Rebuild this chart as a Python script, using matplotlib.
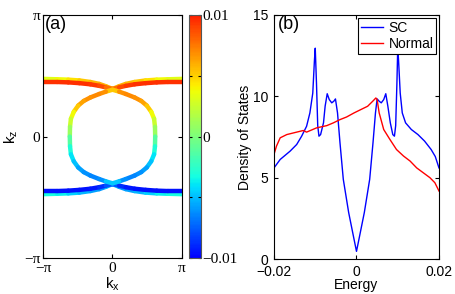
import numpy as np
import matplotlib
matplotlib.use('Agg')
import matplotlib.pyplot as plt
from matplotlib.collections import LineCollection
from matplotlib.colors import ListedColormap

plt.rcParams['font.family'] = ['Liberation Sans', 'DejaVu Sans']
plt.rcParams['font.size'] = 10
plt.rcParams['axes.linewidth'] = 0.8

# ---- panel (a): Fermi surface lines, colour = value on colorbar
band_kx = [-3.14, -2.5, -2.0, -1.5, -1.0, -0.6, -0.3, 0.0, 0.3, 0.6, 1.0, 1.5, 2.0, 2.5, 3.14]
top_outer_kz = [1.49, 1.48, 1.47, 1.45, 1.41, 1.36, 1.30, 1.23, 1.30, 1.36, 1.41, 1.45, 1.47, 1.48, 1.49]
top_outer_c = [0.003, 0.0035, 0.004, 0.005, 0.0055, 0.006, 0.006, 0.005, 0.006, 0.006, 0.0055, 0.005, 0.004, 0.0035, 0.003]
top_inner_kz = [1.41, 1.41, 1.40, 1.38, 1.35, 1.31, 1.27, 1.23, 1.27, 1.31, 1.35, 1.38, 1.40, 1.41, 1.41]
top_inner_c = [0.0095, 0.0095, 0.0095, 0.0095, 0.0095, 0.009, 0.0085, 0.007, 0.0085, 0.009, 0.0095, 0.0095, 0.0095, 0.0095, 0.0095]
bot_outer_kz = [-1.49, -1.48, -1.47, -1.45, -1.41, -1.36, -1.30, -1.23, -1.30, -1.36, -1.41, -1.45, -1.47, -1.48, -1.49]
bot_outer_c = [-0.003, -0.0035, -0.004, -0.005, -0.0055, -0.006, -0.006, -0.004, -0.006, -0.006, -0.0055, -0.005, -0.004, -0.0035, -0.003]
bot_inner_kz = [-1.41, -1.41, -1.40, -1.38, -1.35, -1.31, -1.27, -1.23, -1.27, -1.31, -1.35, -1.38, -1.40, -1.41, -1.41]
bot_inner_c = [-0.0095, -0.0095, -0.0095, -0.0095, -0.0095, -0.009, -0.0085, -0.007, -0.0085, -0.009, -0.0095, -0.0095, -0.0095, -0.0095, -0.0095]

ring_right_kx = [0.0, 0.3, 0.6, 1.0, 1.3, 1.55, 1.75, 1.88, 1.92, 1.93, 1.92, 1.88, 1.75, 1.55, 1.3, 1.0, 0.6, 0.3, 0.0]
ring_left_kx = [0.0, -0.3, -0.6, -1.0, -1.3, -1.55, -1.75, -1.88, -1.92, -1.93, -1.92, -1.88, -1.75, -1.55, -1.3, -1.0, -0.6, -0.3, 0.0]
ring_kz = [1.21, 1.16, 1.10, 1.01, 0.92, 0.80, 0.64, 0.46, 0.25, 0.0, -0.25, -0.46, -0.64, -0.80, -0.92, -1.01, -1.10, -1.16, -1.21]
ring_c = [0.004, 0.0065, 0.007, 0.007, 0.0065, 0.006, 0.0045, 0.003, 0.002, 0.0, -0.0025, -0.0035, -0.0045, -0.0055, -0.006, -0.0065, -0.0065, -0.006, -0.0035]

# ---- panel (b): density of states
sc_E = [-0.02, -0.0185, -0.0161, -0.0145, -0.0133, -0.0121, -0.0113, -0.0106, -0.0102, -0.0100, -0.0097,
        -0.0094, -0.0091, -0.0087, -0.0080, -0.0076, -0.0071, -0.0066, -0.0060, -0.0055, -0.0051, -0.0046,
        -0.0040, -0.0032, -0.0019, -0.0006, 0.0, 0.0006, 0.0019, 0.0032, 0.0040, 0.0046, 0.0050, 0.0055,
        0.0060, 0.0066, 0.0071, 0.0076, 0.0082, 0.0088, 0.0092, 0.0095, 0.0098, 0.0100, 0.0102, 0.0106,
        0.0111, 0.0119, 0.0133, 0.0149, 0.0165, 0.0181, 0.0191, 0.02]
sc_dos = [5.6, 6.12, 6.63, 7.04, 7.55, 8.16, 8.98, 10.2, 12.2, 12.96, 10.8,
          8.2, 7.55, 7.65, 8.37, 9.4, 10.16, 9.8, 9.6, 9.7, 9.84, 8.98,
          7.14, 4.9, 2.86, 1.22, 0.47, 1.22, 2.86, 4.9, 7.14, 8.98, 9.84, 9.7,
          9.6, 9.8, 10.16, 9.4, 8.37, 7.65, 7.55, 8.2, 10.8, 13.0, 12.2, 10.2,
          8.98, 8.37, 7.96, 7.65, 7.25, 6.73, 6.3, 5.6]
normal_E = [-0.02, -0.0194, -0.0185, -0.0169, -0.0145, -0.0129, -0.0121, -0.0097, -0.0072, -0.0056,
            -0.0040, -0.0024, -0.0006, 0.0010, 0.0027, 0.0039, 0.0047, 0.0050, 0.0055, 0.0066, 0.0081,
            0.0097, 0.0114, 0.0130, 0.0146, 0.0162, 0.0178, 0.0190, 0.02]
normal_dos = [6.43, 6.94, 7.45, 7.65, 7.8, 7.9, 7.8, 8.06, 8.2, 8.37,
              8.57, 8.73, 8.98, 9.18, 9.39, 9.69, 9.9, 9.8, 8.98, 7.96, 7.35,
              6.73, 6.33, 6.02, 5.6, 5.3, 5.0, 4.69, 4.18]

serif = ['Liberation Serif', 'DejaVu Serif']
# jet running from pure blue to pure red, as in the reference colorbar
cmap = ListedColormap(plt.get_cmap('jet')(np.linspace(0.125, 0.875, 256)))
norm = plt.Normalize(-0.01, 0.01)


def colored_line(ax, x, y, c):
    pts = np.column_stack([x, y])
    segs = np.stack([pts[:-1], pts[1:]], axis=1)
    c = np.asarray(c)
    lc = LineCollection(segs, cmap=cmap, norm=norm, linewidths=3.2, capstyle='round')
    lc.set_array((c[:-1] + c[1:]) / 2)
    ax.add_collection(lc)


fig = plt.figure(figsize=(4.55, 2.94), dpi=100)

ax1 = fig.add_axes([0.0945, 0.1224, 0.3055, 0.8265])
colored_line(ax1, band_kx, top_outer_kz, top_outer_c)
colored_line(ax1, band_kx, top_inner_kz, top_inner_c)
colored_line(ax1, band_kx, bot_outer_kz, bot_outer_c)
colored_line(ax1, band_kx, bot_inner_kz, bot_inner_c)
colored_line(ax1, ring_right_kx, ring_kz, ring_c)
colored_line(ax1, ring_left_kx, ring_kz, ring_c)
ax1.set_xlim(-np.pi, np.pi)
ax1.set_ylim(-np.pi, np.pi)
ax1.set_xticks([-np.pi, 0, np.pi])
ax1.set_xticklabels(['\u2212\u03c0', '0', '\u03c0'], family=serif, fontsize=11)
ax1.set_yticks([-np.pi, 0, np.pi])
ax1.set_yticklabels(['\u2212\u03c0', '0', '\u03c0'], family=serif, fontsize=11)
ax1.tick_params(direction='in', top=True, right=True, length=3)
ax1.tick_params(axis='x', pad=3)
ax1.tick_params(axis='y', pad=2)
ax1.set_xlabel(r'$\mathregular{k_x}$', fontsize=11, labelpad=0)
ax1.set_ylabel(r'$\mathregular{k_z}$', fontsize=11, labelpad=3)
ax1.text(0.015, 0.995, '(a)', transform=ax1.transAxes, fontsize=13, va='top', ha='left')

cax = fig.add_axes([0.4154, 0.1224, 0.0253, 0.8265])
sm = plt.cm.ScalarMappable(cmap=cmap, norm=norm)
cb = fig.colorbar(sm, cax=cax)
cb.set_ticks([-0.01, -0.005, 0, 0.005, 0.01])
cb.set_ticklabels(['\u22120.01', '', '0', '', '0.01'])
for lab in cax.get_yticklabels():
    lab.set_family(serif)
    lab.set_fontsize(11)
cax.tick_params(direction='in', left=True, right=True, length=2.5, pad=1)
cb.outline.set_linewidth(0.8)
cb.outline.set_edgecolor('#555555')

ax2 = fig.add_axes([0.6022, 0.119, 0.3626, 0.83])
ax2.plot(sc_E, sc_dos, color='#0000ff', lw=1.0, label='SC')
ax2.plot(normal_E, normal_dos, color='#ff0000', lw=1.0, label='Normal')
ax2.set_xlim(-0.02, 0.02)
ax2.set_ylim(0, 15)
ax2.set_xticks([-0.02, 0, 0.02])
ax2.set_xticklabels(['\u22120.02', '0', '0.02'])
ax2.set_yticks([0, 5, 10, 15])
ax2.tick_params(direction='in', top=True, right=True, length=3, labelsize=10)
ax2.tick_params(axis='x', pad=4.5)
ax2.tick_params(axis='y', pad=4)
ax2.set_xlabel('Energy', fontsize=10, labelpad=-1)
ax2.set_ylabel('Density of States', fontsize=10, labelpad=1)
ax2.text(0.025, 0.995, '(b)', transform=ax2.transAxes, fontsize=13, va='top', ha='left')
leg = ax2.legend(loc='upper right', fontsize=10, fancybox=False, framealpha=1, edgecolor='black',
                 borderaxespad=0.2, handlelength=1.6, handletextpad=0.4, borderpad=0.2, labelspacing=0.2)
leg.get_frame().set_linewidth(0.8)

fig.savefig('out.png', dpi=100)
